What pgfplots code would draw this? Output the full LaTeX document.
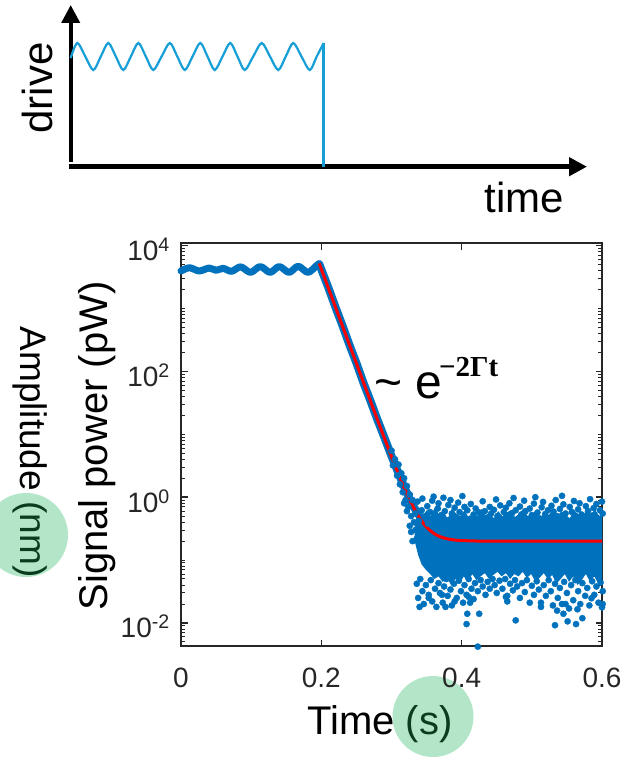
\documentclass[border=0pt]{standalone}
\usepackage{fontspec}
\setmainfont{Liberation Sans}
\newfontfamily\timesfont{Liberation Serif}
\usepackage{pgfplots}
\pgfplotsset{compat=1.18}
\usetikzlibrary{arrows.meta}

\definecolor{mblue}{RGB}{0,114,189}
\definecolor{drivecol}{RGB}{22,158,214}
\definecolor{axgray}{RGB}{38,38,38}
\definecolor{hlgreen}{RGB}{179,230,200}
\definecolor{dkgreen}{RGB}{10,60,30}

\begin{document}
\begin{tikzpicture}[x=1pt,y=1pt]
\useasboundingbox (0,0) rectangle (623,-762);
% highlight discs sit behind everything
\fill[hlgreen] (26,-535) circle (42);
\fill[hlgreen] (433,-716.5) circle (40.5);

% ---- inset: drive vs time sketch ----
\begin{axis}[
  at={(70.7pt,-166.7pt)}, anchor=south west,
  scale only axis, width=516.3pt, height=161.7pt,
  xmin=0, xmax=1, ymin=0, ymax=1,
  hide axis, clip=false,
]
\addplot[black, line width=5pt, -{Triangle[length=18pt,width=18pt]}] coordinates {(-0.004,0) (1,0)};
\addplot[black, line width=4pt, -{Triangle[length=18pt,width=18pt]}] coordinates {(0,0.03) (0,1)};
\addplot[drivecol, line width=2.2pt, smooth] coordinates {
  (0,0.672) (0.0128,0.765) (0.0283,0.6815) (0.0438,0.598) (0.0583,0.6815)
  (0.0728,0.765) (0.0874,0.6815) (0.1019,0.598) (0.1165,0.6815) (0.131,0.765)
  (0.1455,0.6815) (0.160,0.598) (0.176,0.6815) (0.192,0.765) (0.2065,0.6815)
  (0.221,0.598) (0.236,0.6815) (0.251,0.765) (0.265,0.6815) (0.279,0.598)
  (0.294,0.6815) (0.309,0.765) (0.323,0.6815) (0.337,0.598) (0.3535,0.6815)
  (0.370,0.765) (0.386,0.6815) (0.402,0.598) (0.4165,0.6815) (0.431,0.765)
  (0.447,0.6815) (0.463,0.598) (0.4765,0.6815) (0.490,0.765)};
\addplot[drivecol, line width=2.5pt] coordinates {(0.490,0.765) (0.490,0)};
\end{axis}
\node[rotate=90, font=\fontsize{42}{42}\selectfont] at (37,-88) {drive};
\node[anchor=base, font=\fontsize{42}{42}\selectfont] at (524,-212) {time};

% ---- main plot ----
\begin{axis}[
  at={(181pt,-646pt)}, anchor=south west,
  scale only axis, width=421pt, height=403pt,
  xmin=0, xmax=0.6,
  ymode=log, ymin=4.3e-3, ymax=1.1e4,
  clip=false,
  axis line style={axgray, line width=2.7pt},
  xtick={0,0.2,0.4,0.6}, xticklabels={0,0.2,0.4,0.6},
  ytick={1e-2,1,1e2,1e4},
  yticklabels={10\textsuperscript{-2},10\textsuperscript{0},10\textsuperscript{2},10\textsuperscript{4}},
  minor ytick={5e-3,6e-3,7e-3,8e-3,9e-3,2e-2,3e-2,4e-2,5e-2,6e-2,7e-2,8e-2,9e-2,0.1,
    0.2,0.3,0.4,0.5,0.6,0.7,0.8,0.9,2,3,4,5,6,7,8,9,10,20,30,40,50,60,70,80,90,
    200,300,400,500,600,700,800,900,1000,2000,3000,4000,5000,6000,7000,8000,9000},
  tick align=inside,
  major tick length=6.5pt, minor tick length=4pt,
  major tick style={axgray, line width=1.4pt},
  minor tick style={axgray, line width=1pt},
  tick label style={font=\fontsize{28}{30}\selectfont, text=axgray, inner sep=0pt},
  xticklabel style={anchor=north, yshift=-22pt},
  yticklabel style={anchor=base east, xshift=-11pt, yshift=-15pt},
]
% dense core of the noise floor
\addplot[draw=none, fill=mblue] coordinates {
  (0.333,0.4) (0.338,0.55) (0.344,0.48) (0.350,0.62) (0.356,0.5) (0.362,0.7)
  (0.368,0.52) (0.374,0.6) (0.380,0.45) (0.386,0.66) (0.392,0.55) (0.398,0.5)
  (0.404,0.62) (0.410,0.47) (0.416,0.58) (0.422,0.5) (0.428,0.65) (0.434,0.52)
  (0.440,0.56) (0.446,0.46) (0.452,0.6) (0.458,0.5) (0.464,0.57) (0.470,0.62)
  (0.476,0.48) (0.482,0.55) (0.488,0.66) (0.494,0.5) (0.500,0.54) (0.506,0.6)
  (0.512,0.47) (0.518,0.58) (0.524,0.52) (0.530,0.63) (0.536,0.49) (0.542,0.6)
  (0.548,0.53) (0.554,0.46) (0.560,0.62) (0.566,0.54) (0.572,0.5) (0.578,0.6)
  (0.584,0.52) (0.590,0.64) (0.596,0.5) (0.600,0.55)
  (0.600,0.05) (0.595,0.042) (0.589,0.055) (0.583,0.045) (0.577,0.06) (0.571,0.048)
  (0.565,0.04) (0.559,0.055) (0.553,0.045) (0.547,0.06) (0.541,0.05) (0.535,0.042)
  (0.529,0.058) (0.523,0.05) (0.517,0.062) (0.511,0.052) (0.505,0.046) (0.499,0.06)
  (0.493,0.052) (0.487,0.065) (0.481,0.055) (0.475,0.06) (0.469,0.05) (0.463,0.062)
  (0.457,0.055) (0.451,0.065) (0.445,0.058) (0.439,0.05) (0.433,0.062) (0.427,0.055)
  (0.421,0.048) (0.415,0.06) (0.409,0.045) (0.403,0.055) (0.397,0.042) (0.391,0.05)
  (0.385,0.04) (0.379,0.052) (0.373,0.045) (0.367,0.055) (0.361,0.05) (0.355,0.06)
  (0.349,0.07) (0.343,0.085) (0.338,0.12) (0.333,0.2)};
% scattered samples
\addplot[mblue, only marks, mark=*, mark size=3.1pt] coordinates {
  (0.334,0.55) (0.337,0.85) (0.339,0.42) (0.343,0.62) (0.344,0.95) (0.348,0.5)
  (0.351,0.72) (0.352,0.38) (0.355,0.58) (0.358,0.88) (0.360,1.02) (0.363,0.47)
  (0.366,0.66) (0.367,0.8) (0.371,0.52) (0.374,0.98) (0.376,0.6) (0.379,0.43)
  (0.381,0.75) (0.384,0.9) (0.386,0.55) (0.390,0.68) (0.392,0.4) (0.395,0.82)
  (0.397,0.58) (0.401,1.04) (0.403,0.5) (0.404,0.7) (0.408,0.62) (0.411,0.45)
  (0.413,0.78) (0.417,0.53) (0.420,0.66) (0.421,0.41) (0.425,0.57) (0.428,0.48)
  (0.430,0.86) (0.433,0.6) (0.437,0.44) (0.440,0.7) (0.442,0.55) (0.446,0.63)
  (0.449,0.92) (0.451,0.5) (0.455,0.74) (0.457,0.42) (0.460,0.58) (0.463,0.68)
  (0.466,0.49) (0.468,0.8) (0.472,0.56) (0.474,0.97) (0.477,0.62) (0.480,0.45)
  (0.483,0.71) (0.485,0.53) (0.489,0.88) (0.491,0.6) (0.494,0.43) (0.497,0.66)
  (0.500,0.52) (0.503,0.79) (0.505,1.0) (0.508,0.57) (0.511,0.46) (0.514,0.69)
  (0.516,0.84) (0.519,0.54) (0.523,0.62) (0.525,0.44) (0.528,0.73) (0.531,0.59)
  (0.534,0.9) (0.536,0.5) (0.540,0.65) (0.543,1.05) (0.545,0.77) (0.548,0.55)
  (0.551,0.42) (0.554,0.7) (0.557,0.58) (0.560,0.87) (0.562,0.48) (0.566,0.64)
  (0.568,0.8) (0.571,0.53) (0.574,0.45) (0.577,0.72) (0.580,0.6) (0.583,0.93)
  (0.586,0.51) (0.588,0.67) (0.592,0.78) (0.594,0.46) (0.597,0.62) (0.600,0.85)
  (0.601,0.55)
  (0.336,0.042) (0.338,0.025) (0.341,0.05) (0.344,0.032) (0.346,0.02) (0.349,0.04)
  (0.353,0.028) (0.356,0.048) (0.358,0.022) (0.362,0.035) (0.364,0.018) (0.367,0.043)
  (0.369,0.03) (0.373,0.021) (0.375,0.038) (0.378,0.05) (0.380,0.027) (0.384,0.034)
  (0.386,0.019) (0.389,0.042) (0.393,0.025) (0.396,0.047) (0.399,0.032) (0.402,0.021)
  (0.404,0.04) (0.407,0.028) (0.410,0.05) (0.414,0.035) (0.417,0.024) (0.419,0.043)
  (0.423,0.032) (0.427,0.048) (0.430,0.038) (0.434,0.028) (0.437,0.045) (0.440,0.035)
  (0.444,0.05) (0.447,0.04) (0.450,0.03) (0.454,0.047) (0.458,0.035) (0.462,0.05)
  (0.465,0.027) (0.469,0.042) (0.473,0.033) (0.476,0.048) (0.479,0.038) (0.483,0.025)
  (0.486,0.043) (0.490,0.031) (0.493,0.048) (0.497,0.021) (0.500,0.039) (0.503,0.028)
  (0.507,0.046) (0.510,0.034) (0.513,0.021) (0.517,0.04) (0.520,0.027) (0.524,0.048)
  (0.527,0.032) (0.530,0.019) (0.533,0.042) (0.537,0.025) (0.540,0.036) (0.543,0.02)
  (0.546,0.045) (0.550,0.03) (0.553,0.017) (0.556,0.04) (0.559,0.023) (0.562,0.048)
  (0.566,0.032) (0.569,0.02) (0.572,0.043) (0.576,0.027) (0.579,0.036) (0.582,0.019)
  (0.586,0.046) (0.589,0.028) (0.592,0.038) (0.595,0.021) (0.598,0.044) (0.601,0.032)
  (0.601,0.02)
  (0.340,0.018) (0.377,0.018) (0.407,0.0096) (0.408,0.014) (0.412,0.021)
  (0.425,0.014) (0.423,0.0042) (0.477,0.011) (0.513,0.018) (0.533,0.0092)
  (0.536,0.0157) (0.545,0.014) (0.551,0.0106) (0.563,0.0096) (0.572,0.0119)
  (0.565,0.0165) (0.585,0.0247) (0.600,0.0177) (0.372,0.028) (0.410,0.026)
  (0.463,0.026) (0.465,0.022) (0.548,0.02) (0.353,0.025) (0.390,0.022)
  (0.300,5.5) (0.302,3.2) (0.305,4.0) (0.308,2.2) (0.310,3.3) (0.312,1.6)
  (0.314,2.4) (0.316,1.2) (0.318,2.0) (0.320,0.9) (0.322,1.5) (0.324,0.7)
  (0.326,1.1) (0.328,0.5) (0.330,0.9) (0.332,0.4) (0.334,0.3) (0.336,0.22)
  (0.330,0.2) (0.328,0.28) (0.326,0.35) (0.322,0.6) (0.318,0.8)};
% driven plateau
\addplot[mblue, line width=7pt, line cap=round, line join=round, smooth] coordinates {
  (0.000,3950) (0.012,4450) (0.026,3950) (0.040,4400) (0.050,4050) (0.060,4350)
  (0.072,3900) (0.085,4600) (0.099,3750) (0.113,4650) (0.127,3750) (0.140,4650)
  (0.154,3750) (0.167,4700) (0.181,3750) (0.194,4900) (0.197,5100)};
% ring-down
\addplot[mblue, line width=8pt, line cap=round, line join=round] coordinates {
  (0.197,5100) (0.21,2150) (0.22,1060) (0.23,540) (0.24,265) (0.25,136)
  (0.26,66) (0.27,34) (0.28,17) (0.29,8.8) (0.30,4.5) (0.31,2.4) (0.32,1.3)
  (0.33,0.75) (0.34,0.5)};
% exponential fit
\addplot[red, line width=3pt] coordinates {
  (0.197,5200) (0.21,2118) (0.22,1062) (0.23,532) (0.24,267) (0.25,134)
  (0.26,67) (0.27,33.8) (0.28,17) (0.29,8.63) (0.30,4.43) (0.305,3.19)
  (0.31,2.32) (0.315,1.70) (0.32,1.26) (0.325,0.952) (0.33,0.732) (0.335,0.577)
  (0.34,0.467) (0.345,0.389) (0.35,0.334) (0.355,0.295) (0.36,0.267)
  (0.365,0.247) (0.37,0.234) (0.375,0.224) (0.38,0.217) (0.39,0.208)
  (0.40,0.204) (0.42,0.201) (0.45,0.2) (0.6,0.2)};
\end{axis}

\node[anchor=base west, inner sep=0pt, font=\fontsize{48}{48}\selectfont] at (374,-398) {\textasciitilde\ e};
\node[anchor=base west, inner sep=0pt, font=\fontsize{29}{29}\timesfont\bfseries] at (439,-376) {−2Γt};
\node[rotate=90, font=\fontsize{40}{40}\selectfont] at (97.5,-446) {Signal power (pW)};
\node[rotate=-90, font=\fontsize{37}{37}\selectfont] at (30,-452) {Amplitude \textcolor{dkgreen}{(nm)}};
\node[anchor=base, font=\fontsize{40}{40}\selectfont] at (380,-734) {Time \textcolor{dkgreen}{(s)}};
\end{tikzpicture}
\end{document}
